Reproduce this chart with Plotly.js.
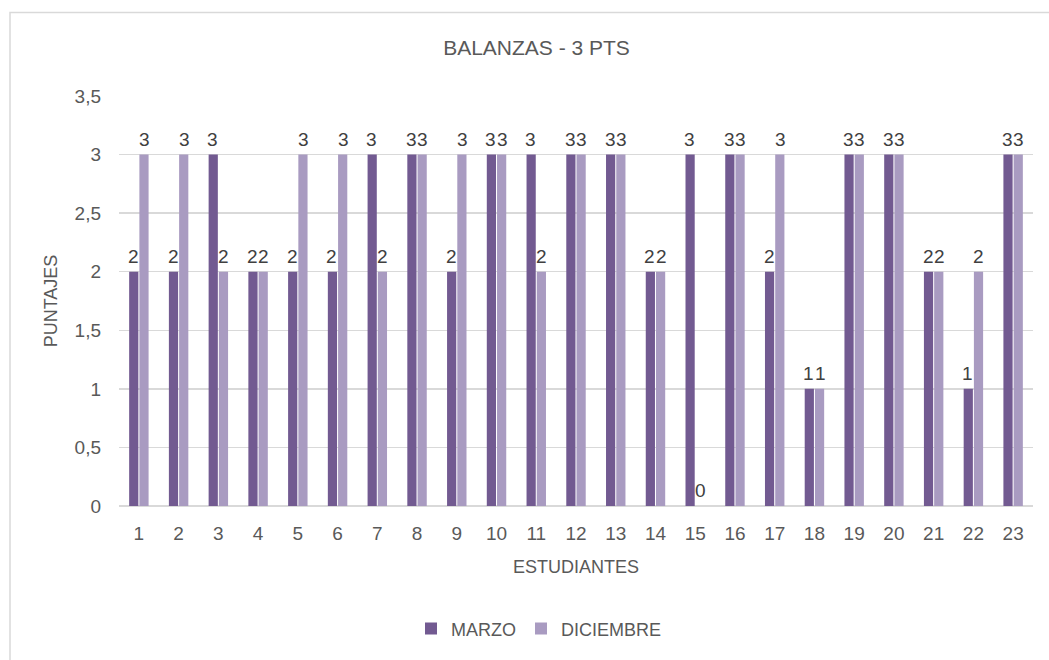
<!DOCTYPE html>
<html>
<head>
<meta charset="utf-8">
<script src="https://cdn.plot.ly/plotly-3.0.1.min.js"></script>
<style>
  html, body { margin: 0; padding: 0; background: #ffffff; }
  #chart { width: 1049px; height: 660px; }
</style>
</head>
<body>
<div id="chart"></div>
<script>
const students = ['1','2','3','4','5','6','7','8','9','10','11','12','13','14','15','16','17','18','19','20','21','22','23'];
const marzo     = [2,2,3,2,2,2,3,3,2,3,3,3,3,2,3,3,2,1,3,3,2,1,3];
const diciembre = [3,3,2,2,3,3,2,3,3,3,2,3,3,2,0,3,3,1,3,3,2,2,3];
const seriesNames = ['MARZO', 'DICIEMBRE'];
const chartTitle = 'BALANZAS - 3 PTS';
const xTitle = 'ESTUDIANTES';
const yTitle = 'PUNTAJES';

const FONT = '"Liberation Sans Narrow", "Arial Narrow", "Liberation Sans", Arial, sans-serif';
const TXT = '#595959';
const LBL = '#404040';

const L = 119, R = 1049 - 1033, T = 96, B = 660 - 508;
const W = 1049 - L - R, H = 660 - T - B;
const px = v => (v - L) / W;
const py = v => (660 - B - v) / H;

const traces = [
  {
    type: 'bar', name: seriesNames[0], x: students, y: marzo,
    marker: { color: '#725A91' }, hoverinfo: 'x+y'
  },
  {
    type: 'bar', name: seriesNames[1], x: students, y: diciembre,
    marker: { color: '#A99BC1' }, hoverinfo: 'x+y'
  }
];

// data labels placed at each bar's value through the axes (x = category index)
const annotations = [];
[[marzo, -5.6], [diciembre, 5.6]].forEach(([vals, dx]) => {
  vals.forEach((v, i) => {
    annotations.push({
      x: i, y: v, xref: 'x', yref: 'y',
      text: String(v), showarrow: false,
      xanchor: 'center', yanchor: 'bottom',
      xshift: dx, yshift: 3,
      font: { family: FONT, size: 19, color: LBL }
    });
  });
});

const layout = {
  width: 1049, height: 660,
  margin: { l: L, r: R, t: T, b: B, pad: 0 },
  paper_bgcolor: '#ffffff', plot_bgcolor: '#ffffff',
  font: { family: FONT, size: 19, color: TXT },
  separators: ',.',
  barmode: 'group', bargap: 0.485, bargroupgap: 0.1,
  title: {
    text: chartTitle, font: { family: FONT, size: 21, color: TXT },
    x: px(536.5), xref: 'paper', xanchor: 'center',
    y: py(47.5), yref: 'paper', yanchor: 'middle'
  },
  xaxis: {
    type: 'category', categoryorder: 'array', categoryarray: students,
    range: [-0.5, students.length - 0.5], autorange: false,
    showgrid: false, zeroline: false,
    showline: false, ticks: '', ticklabelstandoff: 14,
    tickfont: { family: FONT, size: 19, color: TXT },
    title: { text: xTitle, standoff: 17, font: { family: FONT, size: 18, color: TXT } },
    fixedrange: true
  },
  yaxis: {
    range: [0, 3.5], dtick: 0.5, tick0: 0, autorange: false,
    showgrid: true, gridcolor: '#d9d9d9', gridwidth: 1.3,
    zeroline: true, zerolinecolor: '#d9d9d9', zerolinewidth: 1.3,
    showline: false, ticks: '', ticklabelstandoff: 17,
    tickfont: { family: FONT, size: 19, color: TXT },
    title: { text: yTitle, standoff: 12, font: { family: FONT, size: 18, color: TXT } },
    fixedrange: true
  },
  showlegend: true,
  legend: {
    orientation: 'h', x: px(539), xanchor: 'center', xref: 'paper',
    y: py(631.5), yanchor: 'middle', yref: 'paper',
    font: { family: FONT, size: 18, color: TXT },
    itemwidth: 30, traceorder: 'normal'
  },
  annotations: annotations,
  shapes: [{
    type: 'rect', xref: 'paper', yref: 'paper',
    x0: px(10), x1: px(1060), y0: py(12), y1: py(680),
    line: { color: '#d9d9d9', width: 1.5 }, fillcolor: 'rgba(0,0,0,0)', layer: 'below'
  }]
};

Plotly.newPlot('chart', traces, layout, { displayModeBar: false, staticPlot: true });
</script>
</body>
</html>
